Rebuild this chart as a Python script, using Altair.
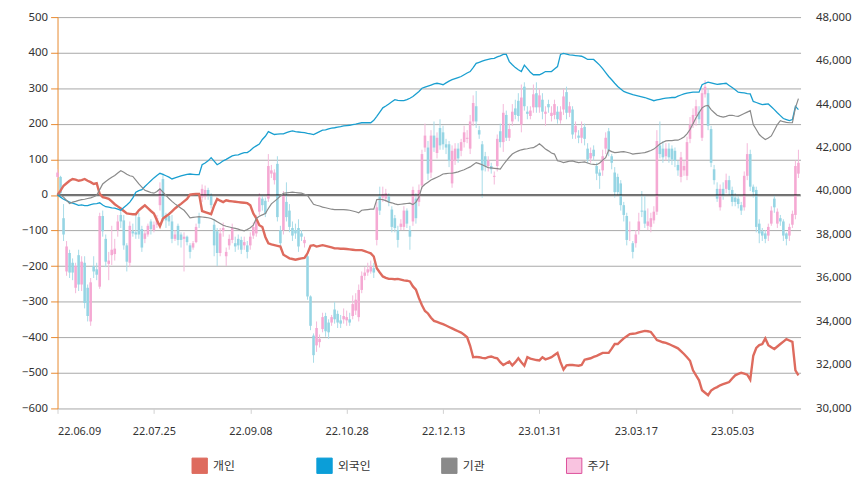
import altair as alt
import pandas as pd

# ---------------- data (trading-day index 0..246) ----------------
tick_labels = ["22.06.09", "22.07.25", "22.09.08", "22.10.28",
               "22.12.13", "23.01.31", "23.03.17", "23.05.03"]
tick_index = [0, 32, 64, 96, 128, 160, 192, 224]

series_names = ["개인", "외국인", "기관", "주가"]

price_open = [
    40650, 40650, 38750, 36300, 37150, 36700, 35550, 37050, 35700, 36700,
    35550, 34000, 36550, 36400, 35600, 38850, 37800, 36650, 37050, 37100,
    38200, 38900, 38650, 37500, 36700, 38150, 38100, 38800, 38250, 37800,
    38000, 38600, 38200, 38450, 39350, 40550, 38800, 38850, 38600, 37800,
    38400, 38000, 37800, 37900, 37500, 37400, 37650, 38800, 39700, 39750,
    40050, 39800, 38450, 38150, 37150, 38150, 37000, 37500, 37750, 37600,
    37800, 37750, 37500, 37500, 37500, 37950, 38050, 39050, 39650, 39550,
    39650, 40800, 40500, 41250, 38200, 38200, 39500, 39100, 38300, 38200,
    38300, 38050, 37600, 37000, 35150, 33350, 32900, 33050, 33650, 34250,
    33950, 33950, 34550, 34350, 34050, 34100, 34050, 34100, 34250, 34500,
    34200, 35450, 36100, 36250, 36300, 36450, 37750, 39750, 39700, 39650,
    39750, 39150, 38750, 38200, 38350, 38350, 39100, 38200, 38600, 39650,
    39500, 40250, 42000, 42000, 40850, 42550, 41750, 42900, 42700, 42150,
    42150, 40350, 41400, 41950, 41850, 42250, 42400, 41950, 43200, 43900,
    42800, 42150, 41600, 41150, 41150, 40650, 41150, 42750, 42250, 43500,
    42450, 43200, 43800, 44150, 43050, 44800, 43650, 43450, 43850, 44500,
    43850, 44200, 43550, 44000, 43450, 43500, 43650, 43250, 43750, 44550,
    43600, 43750, 42700, 42550, 42450, 42950, 41950, 41500, 41900, 41150,
    40850, 40950, 41950, 42750, 41600, 40850, 40650, 40350, 39350, 38850,
    38150, 37600, 37600, 38200, 39100, 39100, 38400, 38350, 38650, 39050,
    42100, 41950, 41600, 41950, 41950, 41850, 41200, 40650, 40950, 40700,
    42400, 43050, 43450, 43650, 42450, 44450, 44500, 42850, 41000, 40100,
    39250, 40100, 40100, 40500, 40050, 39700, 39650, 39350, 39250, 40700,
    41700, 40200, 40050, 38500, 38150, 38050, 37950, 38500, 39650, 38500,
    38750, 38600, 38050, 37950, 38450, 38900, 40800,
]
price_high = [
    41000, 40700, 39400, 37700, 37300, 36900, 36700, 37300, 37000, 37000,
    35700, 36000, 37000, 36700, 39000, 39100, 38000, 37200, 38400, 37800,
    38900, 39100, 38900, 37600, 38600, 38500, 39000, 39000, 38400, 38200,
    38500, 38700, 38600, 38900, 40400, 40800, 39000, 39000, 38900, 38200,
    38500, 38100, 38100, 37950, 37600, 37700, 38500, 39000, 40300, 40250,
    40150, 39900, 38700, 38300, 38300, 38550, 37400, 38000, 38500, 37900,
    38000, 37900, 37900, 37700, 38100, 38550, 38900, 39900, 39800, 39700,
    41700, 41200, 41000, 41600, 38400, 40000, 40400, 39400, 38600, 38500,
    38700, 38200, 37900, 37100, 35200, 33450, 34000, 33400, 34400, 34400,
    34100, 34300, 34900, 34500, 34300, 34600, 34500, 34400, 35200, 35300,
    35700, 36300, 36500, 36700, 36800, 36700, 39500, 40200, 40200, 40100,
    39900, 39300, 38900, 38400, 38700, 39300, 39200, 38400, 40200, 39900,
    40300, 41900, 43100, 42300, 42800, 43200, 42700, 43300, 43000, 42400,
    42300, 42100, 42200, 42200, 42400, 43000, 42800, 43500, 44400, 44600,
    43000, 42300, 41800, 41600, 41300, 40900, 42600, 43100, 44000, 43700,
    43100, 44000, 44200, 44500, 44900, 45000, 43900, 43900, 44900, 45000,
    44700, 44500, 43900, 44200, 43900, 44200, 43900, 43900, 44700, 44800,
    44100, 43900, 43200, 42800, 43200, 43100, 42200, 42000, 42100, 41300,
    41000, 41900, 42700, 42900, 41700, 41100, 40800, 40500, 39500, 39000,
    38600, 37700, 38200, 39000, 40000, 39800, 39200, 39000, 39300, 42800,
    43200, 42300, 42200, 42200, 42100, 42000, 41400, 41800, 41400, 42500,
    43400, 43800, 44200, 43900, 44700, 45100, 44700, 43000, 41200, 40400,
    40300, 40400, 40800, 40700, 40200, 39900, 39800, 39500, 40900, 42200,
    41900, 40300, 40200, 38700, 38300, 38200, 38500, 39300, 39800, 39200,
    38900, 38700, 38100, 38500, 39100, 41400, 41900,
]
price_low = [
    40600, 39700, 37700, 36100, 36000, 35900, 35300, 35400, 35400, 34600,
    34000, 33800, 36000, 35900, 35500, 37900, 36500, 35900, 36600, 36800,
    37900, 38300, 37300, 36300, 36500, 37900, 37800, 37800, 37200, 37600,
    37900, 38000, 38100, 38300, 39100, 38600, 38300, 38400, 37600, 37700,
    37500, 37400, 36300, 37500, 36900, 37300, 37600, 38300, 39500, 39600,
    39600, 39200, 37000, 36550, 37000, 37900, 36550, 37300, 37600, 37200,
    37300, 37100, 37300, 36900, 37300, 37800, 37900, 38900, 39100, 38800,
    39500, 40600, 40300, 38600, 37300, 38000, 38600, 38100, 37700, 37800,
    37200, 37700, 37400, 35000, 33600, 32100, 32600, 32800, 33500, 33300,
    33200, 33800, 33900, 33700, 33700, 33900, 33800, 33800, 34100, 34300,
    34000, 35300, 35900, 36100, 36200, 36000, 37500, 38900, 39500, 39500,
    39300, 38100, 38100, 37400, 38200, 38200, 38300, 37300, 38400, 38500,
    39300, 40100, 41800, 40500, 40600, 41800, 41500, 41900, 41900, 41700,
    41100, 40150, 41200, 41300, 41600, 42000, 42200, 41700, 43000, 42900,
    42400, 39700, 40900, 40900, 40800, 40300, 40900, 42000, 41800, 42300,
    42300, 43000, 43300, 43200, 42700, 43700, 43300, 43300, 43600, 43600,
    43600, 43300, 43000, 43600, 43200, 43300, 43100, 43100, 43500, 43300,
    43400, 42400, 42400, 42200, 42200, 42100, 41300, 41300, 41400, 40500,
    40100, 40700, 41700, 41600, 41000, 39700, 39800, 39100, 38600, 37500,
    37700, 36900, 37400, 38000, 38800, 38300, 38200, 38100, 38500, 38900,
    41500, 41300, 41400, 41300, 41200, 41100, 40700, 40400, 40700, 40500,
    42200, 42900, 43000, 43100, 42300, 44300, 42800, 41100, 40300, 39500,
    39100, 39600, 39900, 39800, 39300, 39300, 39200, 38900, 39100, 40500,
    40000, 39700, 38100, 37600, 37700, 37600, 37700, 38400, 39000, 38300,
    38400, 37700, 37500, 37700, 38300, 38700, 40600,
]
price_close = [
    40850, 39900, 38000, 37450, 36250, 36250, 36550, 35700, 36750, 34850,
    34250, 35800, 36300, 36150, 38850, 38150, 36750, 36800, 37300, 37350,
    38600, 38600, 37500, 36750, 38400, 38050, 38000, 38000, 37400, 38050,
    38400, 38250, 38450, 38750, 40050, 38800, 38650, 38600, 37800, 38000,
    37750, 37750, 37900, 37650, 37200, 37600, 38350, 38500, 40100, 40050,
    39800, 39350, 37500, 37150, 38050, 38300, 37200, 37800, 38300, 37450,
    37500, 37300, 37650, 37200, 37900, 38350, 38650, 39700, 39350, 38950,
    41150, 40950, 40850, 38800, 37600, 39800, 38800, 38350, 37950, 38050,
    37450, 37900, 37750, 35150, 33800, 32450, 33700, 33200, 34200, 33550,
    33500, 34200, 34100, 33950, 33900, 34250, 34200, 33950, 34800, 35000,
    35450, 36100, 36250, 36400, 36550, 36250, 39250, 39100, 39850, 39900,
    39500, 38350, 38300, 37750, 38500, 39100, 38500, 37900, 40050, 38750,
    40050, 41700, 42550, 40800, 42550, 42000, 42450, 42100, 42150, 42000,
    41400, 41850, 41950, 41500, 42250, 42700, 42450, 43200, 44050, 43200,
    42600, 40950, 41150, 41400, 41000, 40700, 42400, 42250, 43600, 42450,
    42850, 43650, 43500, 43450, 44300, 43900, 43550, 43700, 44450, 43850,
    44400, 43650, 43650, 43850, 43600, 44000, 43300, 43650, 44350, 43600,
    43900, 42600, 43000, 42450, 42900, 42400, 41450, 41750, 41600, 40800,
    40700, 41600, 42450, 41850, 41300, 39950, 39950, 39350, 38900, 37750,
    38200, 37200, 38000, 38600, 39050, 38500, 38600, 38750, 39050, 42300,
    41700, 41550, 41950, 41550, 41450, 41400, 40950, 41550, 41150, 42250,
    43050, 43500, 43900, 43300, 44500, 44800, 43000, 41300, 40500, 39650,
    40100, 39800, 40500, 40050, 39500, 39500, 39400, 39100, 40700, 41700,
    40200, 39950, 38350, 38050, 37950, 37800, 38350, 39100, 39250, 39050,
    38600, 37950, 37800, 38350, 38950, 41150, 41300,
]

# 개인 (individuals), net buying, left axis
retail = [
    0, 12, 26, 33, 40, 45, 43, 40, 42, 45,
    40, 36, 31, 33, 3, -6, -8, -11, -18, -26,
    -32, -38, -45, -52, -53, -54, -54, -43, -36, -29,
    -37, -45, -52, -71, -88, -66, -60, -54, -46, -38,
    -31, -25, -18, -11, 1, 2, 3, 3, -45, -48,
    -51, -54, -30, -11, -16, -20, -15, -17, -18, -19,
    -20, -21, -22, -23, -29, -52, -66, -85, -90, -118,
    -136, -139, -141, -143, -145, -168, -173, -178, -180, -182,
    -180, -178, -177, -164, -143, -141, -145, -143, -141, -143,
    -145, -147, -150, -150, -151, -151, -152, -153, -154, -155,
    -155, -155, -158, -161, -164, -173, -206, -218, -229, -233,
    -236, -236, -237, -236, -238, -240, -241, -243, -257, -266,
    -290, -310, -326, -333, -345, -354, -357, -360, -363, -367,
    -371, -375, -379, -383, -387, -393, -400, -424, -456, -455,
    -456, -458, -459, -456, -454, -457, -459, -470, -478, -473,
    -468, -479, -470, -459, -470, -480, -456, -460, -462, -464,
    -465, -456, -462, -459, -456, -450, -444, -470, -491, -479,
    -478, -478, -479, -480, -478, -463, -461, -459, -455, -452,
    -448, -444, -444, -444, -432, -419, -419, -411, -403, -397,
    -391, -390, -389, -386, -384, -382, -383, -385, -396, -408,
    -411, -414, -416, -419, -423, -427, -431, -439, -447, -456,
    -466, -493, -507, -521, -549, -556, -563, -550, -544, -540,
    -535, -532, -529, -526, -516, -507, -503, -500, -502, -505,
    -519, -452, -430, -422, -419, -403, -422, -428, -433, -426,
    -419, -412, -405, -409, -413, -493, -507,
]
# 외국인 (foreigners)
foreign = [
    0, -6, -12, -16, -20, -23, -26, -29, -28, -30,
    -30, -27, -25, -24, -22, -28, -33, -34, -36, -37,
    -40, -43, -35, -28, -20, -8, 8, 12, 15, 24,
    32, 40, 48, 55, 61, 58, 54, 50, 45, 48,
    51, 54, 56, 58, 59, 58, 57, 57, 85, 90,
    96, 105, 95, 85, 90, 96, 100, 105, 110, 112,
    113, 116, 119, 119, 125, 133, 138, 143, 156, 165,
    178, 174, 170, 171, 172, 172, 175, 178, 180, 178,
    177, 176, 175, 173, 172, 170, 174, 178, 182, 183,
    186, 188, 189, 191, 192, 194, 195, 196, 198, 199,
    201, 203, 203, 203, 203, 210, 221, 233, 245, 250,
    256, 262, 268, 266, 265, 265, 268, 272, 277, 284,
    291, 300, 303, 306, 309, 312, 314, 312, 310, 315,
    320, 324, 327, 330, 333, 338, 343, 347, 358, 370,
    373, 376, 379, 381, 383, 384, 388, 391, 395, 395,
    375, 366, 358, 352, 347, 365, 355, 345, 338, 338,
    338, 342, 347, 347, 347, 354, 361, 395, 398, 396,
    394, 393, 392, 391, 390, 386, 381, 381, 381, 373,
    365, 355, 344, 333, 324, 314, 305, 298, 291, 288,
    285, 282, 280, 278, 276, 274, 271, 268, 265, 267,
    269, 271, 272, 273, 274, 274, 278, 281, 284, 286,
    288, 289, 289, 289, 310, 314, 317, 315, 313, 311,
    312, 313, 314, 308, 302, 296, 289, 288, 287, 285,
    284, 263, 260, 257, 254, 255, 256, 248, 240, 231,
    223, 215, 212, 209, 212, 249, 240,
]
# 기관 (institutions)
institution = [
    3, 0, -6, -15, -24, -20, -18, -15, -13, -12,
    -10, -8, -5, -1, 15, 31, 38, 44, 50, 55,
    62, 68, 64, 58, 54, 52, 42, 31, 22, 13,
    10, 7, 5, 10, 17, 8, -1, -10, -18, -25,
    -31, -37, -43, -53, -64, -63, -62, -61, -62, -63,
    -64, -66, -70, -75, -80, -85, -88, -90, -92, -94,
    -96, -99, -101, -97, -92, -85, -66, -60, -56, -52,
    -38, -25, -18, -11, -3, 5, 6, 7, 8, 7,
    6, 5, 2, -1, -14, -26, -29, -31, -34, -36,
    -38, -40, -41, -41, -41, -41, -42, -43, -45, -47,
    -50, -43, -42, -41, -40, -40, -13, -12, -13, -16,
    -20, -22, -25, -27, -26, -25, -24, -23, -27, -20,
    -6, 22, 30, 36, 42, 46, 50, 54, 59, 60,
    61, 61, 63, 65, 68, 71, 75, 79, 85, 91,
    88, 85, 81, 77, 76, 75, 74, 73, 85, 96,
    106, 115, 120, 124, 127, 129, 130, 132, 133, 138,
    144, 137, 129, 124, 118, 115, 96, 94, 91, 93,
    95, 96, 93, 91, 92, 93, 90, 87, 86, 85,
    90, 98, 105, 126, 122, 119, 120, 121, 122, 120,
    118, 115, 116, 117, 118, 119, 122, 125, 129, 136,
    143, 148, 152, 153, 153, 154, 154, 158, 163, 172,
    184, 200, 217, 231, 245, 250, 252, 240, 232, 224,
    221, 219, 221, 224, 224, 222, 221, 225, 229, 233,
    237, 198, 184, 170, 162, 156, 160, 166, 182, 198,
    209, 206, 204, 203, 203, 245, 271,
]

N = len(price_close)
for arr in (price_open, price_high, price_low, retail, foreign, institution):
    assert len(arr) == N, len(arr)

df = pd.DataFrame({
    "i": list(range(N)),
    "open": price_open, "high": price_high, "low": price_low, "close": price_close,
    "retail": retail, "foreign": foreign, "inst": institution,
})

# ---------------- styles ----------------
C_RETAIL = "#DE6B5E"
C_FOREIGN = "#1A9FD0"
C_INST = "#8A8A8A"
C_UP = "#F5A9D3"
C_UP_WICK = "#F4B8DA"
C_DOWN = "#96D5E4"
C_DOWN_WICK = "#A8DCE8"
ORANGE = "#E8892F"
FONT = "Noto Sans"

labels_js = "[" + ",".join("'%s'" % t for t in tick_labels) + "]"
x_axis = alt.Axis(values=tick_index, labelExpr=labels_js + "[round(datum.value/32)]",
                  grid=False, domainColor="#d0d0d0", tickColor="#d0d0d0", tickSize=5,
                  labelColor="#333333", labelFontSize=11, labelFont=FONT, labelPadding=12,
                  title=None)
x_enc = alt.X("i:Q", scale=alt.Scale(domain=[0, 246.7], nice=False, zero=False), axis=x_axis)

left_scale = alt.Scale(domain=[-600, 500], nice=False, zero=False)
left_axis = alt.Axis(values=list(range(-600, 501, 100)), grid=True, gridColor="#a8a8a8",
                     gridWidth=1, domainColor=ORANGE, tickColor=ORANGE, tickSize=7,
                     labelPadding=3, labelColor="#333333", labelFontSize=11.5, labelFont=FONT,
                     title=None)

right_scale = alt.Scale(domain=[30000, 48000], nice=False, zero=False)
right_axis = alt.Axis(orient="right", values=list(range(30000, 48001, 2000)), format=",d",
                      grid=False, domain=False, ticks=False, labelPadding=15,
                      labelColor="#333333", labelFontSize=11.5, labelFont=FONT, title=None)

up = alt.datum.close >= alt.datum.open

base = alt.Chart(df)
wicks = base.mark_rule(strokeWidth=1).encode(
    x=x_enc,
    y=alt.Y("low:Q", scale=right_scale, axis=right_axis),
    y2="high:Q",
    color=alt.condition(up, alt.value(C_UP_WICK), alt.value(C_DOWN_WICK)),
)
bodies = base.mark_rule(strokeWidth=2.6).encode(
    x=x_enc,
    y=alt.Y("open:Q", scale=right_scale, axis=right_axis),
    y2="close:Q",
    color=alt.condition(up, alt.value(C_UP), alt.value(C_DOWN)),
)
candles = alt.layer(wicks, bodies)

zero_df = pd.DataFrame({"v": [0]})
zero_rule = alt.Chart(zero_df).mark_rule(color="#000000", strokeWidth=1, yOffset=-0.05).encode(
    y=alt.Y("v:Q", scale=left_scale, axis=left_axis))

def series_line(field, color, width):
    return base.mark_line(color=color, strokeWidth=width, interpolate="linear").encode(
        x=x_enc, y=alt.Y(field + ":Q", scale=left_scale, axis=left_axis))

line_retail = series_line("retail", C_RETAIL, 2.4)
line_foreign = series_line("foreign", C_FOREIGN, 1.3)
line_inst = series_line("inst", C_INST, 1.2)

# legend driver: rows with no position are not drawn, only the legend remains
legend_df = pd.DataFrame({"series": series_names, "i": [None] * 4, "v": [None] * 4})
legend_fills = [C_RETAIL, "#0B9ED8", C_INST, "#F9C3E0"]
legend_strokes = [C_RETAIL, "#0B9ED8", C_INST, "#DD4F9B"]
legend_props = dict(title=None, orient="none", legendX=135, legendY=444,
                    direction="horizontal", columns=4, symbolType="square", symbolSize=240,
                    labelFontSize=12, labelFont="Noto Sans CJK KR", labelColor="#333333",
                    columnPadding=68, gridAlign="all", labelOffset=5, padding=0,
                    symbolStrokeWidth=1)
legend_layer = alt.Chart(legend_df).mark_square(opacity=1, strokeWidth=1).encode(
    x=x_enc,
    y=alt.Y("v:Q", scale=left_scale, axis=left_axis),
    fill=alt.Fill("series:N", scale=alt.Scale(domain=series_names, range=legend_fills),
                  legend=alt.Legend(**legend_props)),
    stroke=alt.Stroke("series:N", scale=alt.Scale(domain=series_names, range=legend_strokes),
                      legend=alt.Legend(**legend_props)),
)

lines = alt.layer(zero_rule, line_retail, line_foreign, line_inst, legend_layer)

chart = alt.layer(candles, lines).resolve_scale(y="independent").properties(
    width=750, height=395,
    autosize=alt.AutoSizeParams(type="none"),
    padding={"left": 50, "top": 7, "right": 58, "bottom": 64},
).configure_view(stroke=None)

chart.save("out.html", embed_options={"renderer": "svg", "actions": False})
